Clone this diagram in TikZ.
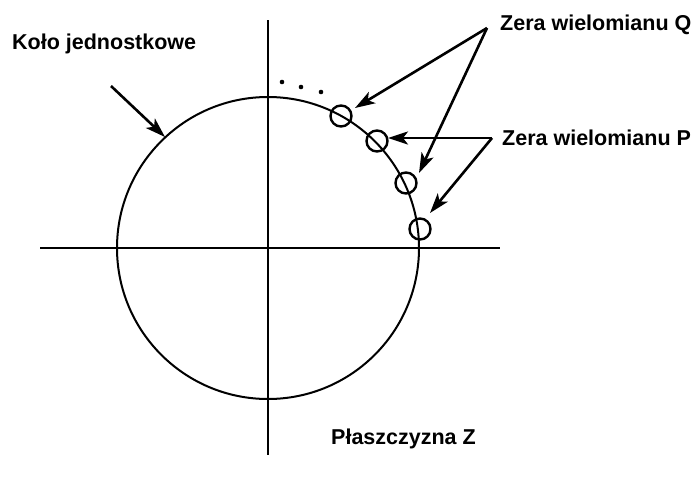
\documentclass[tikz,border=0pt]{standalone}
\usepackage{fontspec}
\setmainfont{Liberation Sans}
\usetikzlibrary{arrows.meta}
\begin{document}
\begin{tikzpicture}[x=1pt,y=-1pt,
  axis/.style={line width=2.6pt},
  zero/.style={circle,draw,line width=2.4pt,minimum size=21pt,inner sep=0pt},
  pointer/.style={line width=2.6pt,-{Stealth[length=20pt,width=13pt,inset=5pt]}},
  lbl/.style={font=\fontsize{21.5}{25}\selectfont\bfseries,inner sep=0pt}]
\useasboundingbox (0,0) rectangle (695,479);
% axes
\coordinate (xl) at (40,248);
\coordinate (xr) at (500,248);
\coordinate (yt) at (268,20);
\coordinate (yb) at (268,455);
\draw[axis] (xl) -- (xr);
\draw[axis] (yt) -- (yb);
% unit circle
\coordinate (o) at (268,248);
\draw[line width=2pt] (o) circle[radius=151];
% zeros
\node[zero] (z1) at (341,116) {};
\node[zero] (z2) at (377,141) {};
\node[zero] (z3) at (406,183) {};
\node[zero] (z4) at (420,229) {};
% dots
\fill (282,82) circle[radius=2.3];
\fill (301,87) circle[radius=2.3];
\fill (321,92) circle[radius=2.3];
% labels
\node[lbl,anchor=west] (lq) at (500,25) {Zera wielomianu Q};
\node[lbl,anchor=west] (lp) at (502,138) {Zera wielomianu P};
\node[lbl,anchor=west] (lk) at (12,44) {Koło jednostkowe};
\node[lbl,anchor=west] (lz) at (331,439) {Płaszczyzna Z};
% arrows
\coordinate (qs) at (487,28);
\coordinate (ps) at (492,138);
\coordinate (ks) at (111,86);
\coordinate (kt) at (165,137);
\coordinate (q1t) at (355,108);
\coordinate (q3t) at (419,173);
\coordinate (p2t) at (388,138);
\coordinate (p4t) at (430,213);
\draw[pointer] (qs) -- (q1t);
\draw[pointer] (qs) -- (q3t);
\draw[pointer] (ps) -- (p2t);
\draw[pointer] (ps) -- (p4t);
\draw[pointer] (ks) -- (kt);
\end{tikzpicture}
\end{document}
